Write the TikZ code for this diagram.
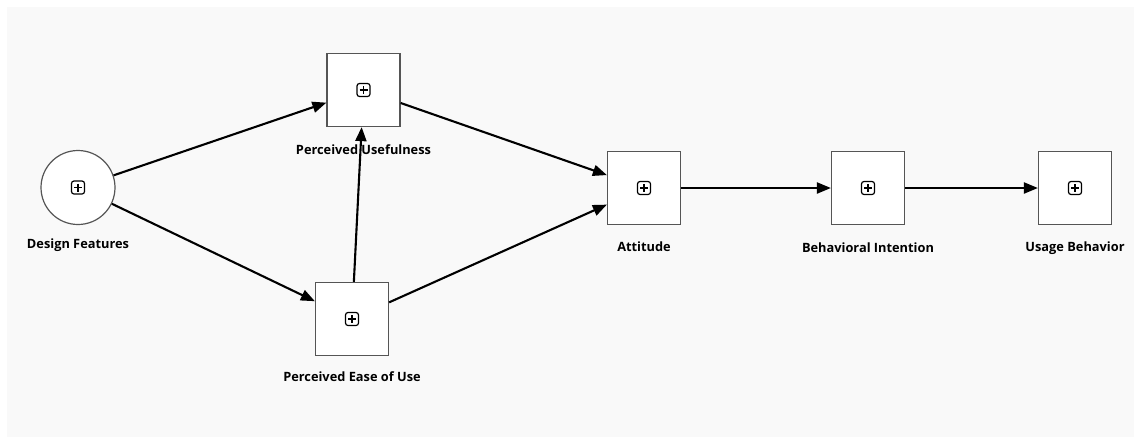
\documentclass[tikz,border=0pt]{standalone}
\usepackage{fontspec}
\setmainfont{Open Sans}
\usetikzlibrary{arrows.meta}
\definecolor{bg}{HTML}{F9F9F9}
\definecolor{boxline}{HTML}{555555}
\tikzset{
  blk/.style={draw=boxline, line width=1.2pt, fill=white, minimum width=73pt, minimum height=73pt, inner sep=0pt},
  circ/.style={draw=boxline, line width=1.2pt, fill=white, circle, minimum size=74pt, inner sep=0pt},
  lbl/.style={font=\fontsize{12.8}{15}\selectfont\bfseries, inner sep=0pt},
  conn/.style={line width=2.1pt, -{Triangle[length=14pt,width=11pt]}},
  plusicon/.pic={
    \draw[line width=1.2pt, rounded corners=2.5pt] (-6.5,-6.5) rectangle (6.5,6.5);
    \draw[line width=1.2pt] (-4,0) -- (4,0) (0,-4) -- (0,4);
  }
}
\begin{document}
\begin{tikzpicture}[x=1pt,y=-1pt]
\useasboundingbox (0,0) rectangle (1134,437);
\fill[bg] (7,7) rectangle (1134,437);

\node[circ] (df) at (78,187.5) {};
\node[blk] (pu) at (363.5,90) {};
\node[blk] (peu) at (352,319) {};
\node[blk] (att) at (644,188) {};
\node[blk] (bi) at (868,188) {};
\node[blk] (ub) at (1075,188) {};

\foreach \n in {df,pu,peu,att,bi,ub} {\pic at (\n.center) {plusicon};}

\draw[conn] (df) -- (pu);
\draw[conn] (df) -- (peu);
\draw[conn] (peu) -- (pu);
\draw[conn] (pu) -- (att);
\draw[conn] (peu) -- (att);
\draw[conn] (att) -- (bi);
\draw[conn] (bi) -- (ub);

\node[lbl] (dfl) at (78,245) {Design Features};
\node[lbl] (pul) at (363.5,150) {Perceived Usefulness};
\node[lbl] (peul) at (352,377) {Perceived Ease of Use};
\node[lbl] (attl) at (644,247) {Attitude};
\node[lbl] (bil) at (868,248) {Behavioral Intention};
\node[lbl] (ubl) at (1075,248) {Usage Behavior};
\end{tikzpicture}
\end{document}
